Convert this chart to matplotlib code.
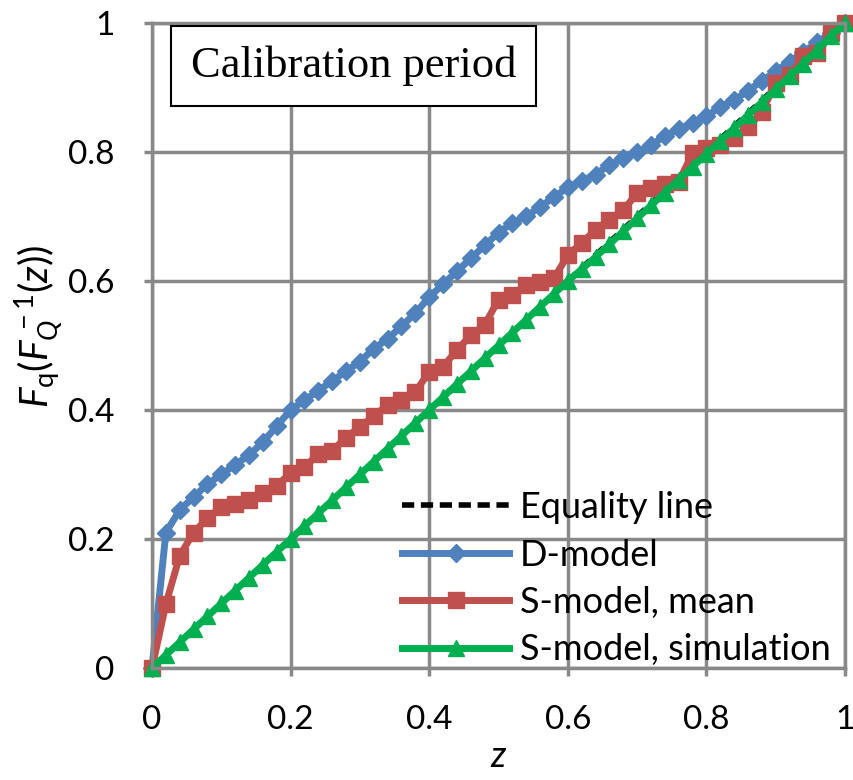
import numpy as np
import matplotlib
matplotlib.use("Agg")
import matplotlib.pyplot as plt

plt.rcParams['font.family'] = ['Lato', 'DejaVu Sans']
plt.rcParams['mathtext.fontset'] = 'custom'
plt.rcParams['mathtext.rm'] = 'Lato'
plt.rcParams['mathtext.it'] = 'Lato:italic'

# probability levels z (every 0.02)
z = [round(0.02 * i, 2) for i in range(51)]

d_model = [0.0, 0.21, 0.245, 0.265, 0.285, 0.30, 0.315, 0.33, 0.35, 0.375,
           0.40, 0.415, 0.43, 0.445, 0.46, 0.475, 0.495, 0.51, 0.53, 0.55,
           0.575, 0.595, 0.615, 0.635, 0.655, 0.675, 0.69, 0.70, 0.715, 0.73,
           0.745, 0.755, 0.765, 0.78, 0.79, 0.80, 0.81, 0.825, 0.835, 0.845,
           0.855, 0.87, 0.88, 0.895, 0.91, 0.925, 0.94, 0.955, 0.97, 0.985,
           1.0]

s_mean = [0.0, 0.099, 0.174, 0.21, 0.232, 0.25, 0.254, 0.26, 0.271, 0.282,
          0.303, 0.311, 0.332, 0.337, 0.357, 0.374, 0.39, 0.408, 0.415, 0.428,
          0.459, 0.467, 0.493, 0.516, 0.532, 0.571, 0.578, 0.594, 0.599, 0.604,
          0.64, 0.659, 0.679, 0.695, 0.71, 0.736, 0.744, 0.751, 0.754, 0.798,
          0.806, 0.81, 0.822, 0.838, 0.862, 0.907, 0.919, 0.948, 0.953, 0.984,
          1.0]

s_sim = [0.0, 0.02, 0.04, 0.06, 0.08, 0.10, 0.12, 0.14, 0.16, 0.18,
         0.20, 0.22, 0.24, 0.26, 0.28, 0.30, 0.32, 0.34, 0.36, 0.38,
         0.40, 0.42, 0.44, 0.46, 0.48, 0.50, 0.52, 0.54, 0.56, 0.58,
         0.60, 0.618, 0.637, 0.657, 0.677, 0.697, 0.717, 0.737, 0.757, 0.777,
         0.797, 0.817, 0.837, 0.857, 0.877, 0.897, 0.917, 0.937, 0.958, 0.98,
         1.0]

ticks = [0, 0.2, 0.4, 0.6, 0.8, 1]
tick_labels = ["0", "0.2", "0.4", "0.6", "0.8", "1"]

fig = plt.figure(figsize=(8.54, 7.8), dpi=100)
ax = fig.add_axes([0.178, 0.1436, 0.8115, 0.827])

ax.plot(z, z, '--', color='black', lw=4, dashes=(2.2, 1.2), label='Equality line')
ax.plot(z, d_model, '-D', color='#4F81BD', lw=5, ms=9, clip_on=False,
        label='D-model')
ax.plot(z, s_mean, '-s', color='#C0504D', lw=5, ms=11, clip_on=False,
        label='S-model, mean')
ax.plot(z, s_sim, '-^', color='#00B050', lw=5, ms=11, clip_on=False,
        label='S-model, simulation')

ax.set_xlim(0, 1)
ax.set_ylim(0, 1)
ax.set_xticks(ticks)
ax.set_xticklabels(tick_labels)
ax.set_yticks(ticks)
ax.set_yticklabels(tick_labels)
ax.tick_params(labelsize=24, length=6, width=2.5, color='#898989')
ax.tick_params(axis='x', pad=21)
ax.tick_params(axis='y', pad=21)
ax.grid(True, color='#898989', lw=2.5)
for s in ax.spines.values():
    s.set_color('#898989')
    s.set_linewidth(2.5)
ax.set_axisbelow(True)

ax.set_xlabel('$z$', fontsize=26)
ax.xaxis.set_label_coords(0.5, -0.112)
ax.set_ylabel(r'$F_\mathrm{q}(F_Q^{\,-1}(z))$', fontsize=28)
ax.yaxis.set_label_coords(-0.125, 0.53)

ax.text(0.291, 0.933, 'Calibration period', transform=ax.transAxes,
        family='Liberation Serif', fontsize=32, ha='center', va='center',
        bbox=dict(boxstyle='square,pad=0.45', fc='white', ec='black', lw=1.5))

leg = ax.legend(loc='lower right', frameon=False, fontsize=26, handlelength=2.95,
                handletextpad=0.3, labelspacing=0.4, borderaxespad=0.0,
                bbox_to_anchor=(1.0, -0.02))
for h in leg.legend_handles:
    h.set_markevery([1])

fig.savefig('out.png', dpi=100)
